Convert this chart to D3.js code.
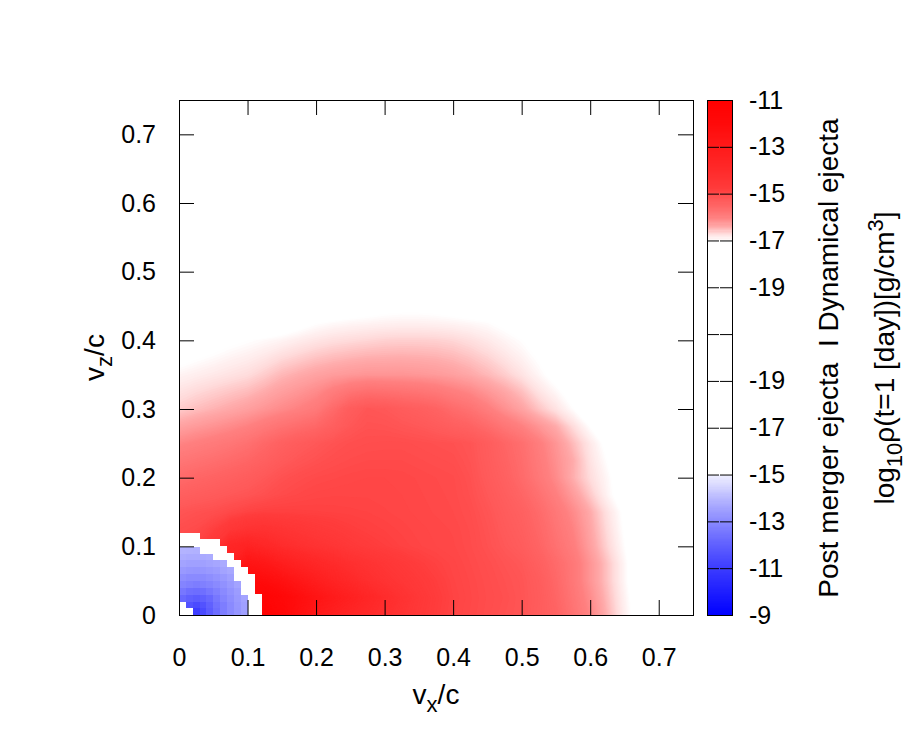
<!DOCTYPE html>
<html><head><meta charset="utf-8">
<script src="https://cdn.jsdelivr.net/npm/d3@7"></script>
<style>
body{margin:0;background:#fff;}
svg text{font-family:"Liberation Sans",Arial,Helvetica,sans-serif;fill:#000;}
</style></head><body>
<svg id="chart" width="913" height="742"></svg>
<script>
// ---------------- data ----------------
const xTicks = [0, 0.1, 0.2, 0.3, 0.4, 0.5, 0.6, 0.7];
const xTickLabels = ["0", "0.1", "0.2", "0.3", "0.4", "0.5", "0.6", "0.7"];
const yTicks = [0, 0.1, 0.2, 0.3, 0.4, 0.5, 0.6, 0.7];
const yTickLabels = ["0", "0.1", "0.2", "0.3", "0.4", "0.5", "0.6", "0.7"];
// colour-bar ticks (bottom to top): post merger part, then dynamical part
const cbTickPos = [0, 2, 4, 6, 8, 10, 12, 14, 16, 18, 20, 22];
const cbTickLabels = ["-9", "-11", "-13", "-15", "-17", "-19", "", "-19", "-17", "-15", "-13", "-11"];

// Dynamical ejecta: log10 rho on a grid, rows are vz = 0, 0.025 ... 0.45, columns vx = 0, 0.025 ... 0.75
const dynStep = 0.025;
const dynRows = [
 [-13.0,-12.0,-11.8,-11.5,-11.3,-11.3,-11.8,-12.4,-13.0,-13.4,-13.75,-14.0,-14.2,-14.45,-14.65,-14.8,-14.92,-14.98,-15.04,-15.1,-15.15,-15.3,-15.45,-15.75,-16.05,-16.45,-16.85,-17.2,-17.55,-17.9,-18.0],
 [-14.0,-13.0,-12.5,-12.0,-11.8,-11.6,-11.9,-12.3,-12.7,-13.1,-13.45,-13.8,-14.1,-14.35,-14.6,-14.78,-14.9,-14.97,-15.03,-15.08,-15.15,-15.28,-15.5,-15.8,-16.12,-16.5,-16.88,-17.25,-17.6,-18.0,-18.0],
 [-15.0,-14.5,-13.5,-12.5,-12.0,-12.2,-12.5,-12.9,-13.3,-13.65,-13.95,-14.2,-14.38,-14.55,-14.7,-14.82,-14.92,-14.98,-15.04,-15.1,-15.16,-15.3,-15.55,-15.85,-16.2,-16.55,-16.92,-17.3,-17.65,-18.0,-18.0],
 [-15.0,-14.8,-14.2,-13.5,-12.7,-12.9,-13.3,-13.6,-13.85,-14.05,-14.25,-14.4,-14.55,-14.68,-14.8,-14.88,-14.94,-15.0,-15.06,-15.13,-15.2,-15.38,-15.6,-15.85,-16.2,-16.55,-16.92,-17.3,-17.65,-18.0,-18.0],
 [-15.0,-14.9,-14.6,-13.8,-13.6,-13.85,-14.1,-14.25,-14.38,-14.5,-14.65,-14.75,-14.82,-14.88,-14.92,-14.95,-14.97,-15.02,-15.1,-15.2,-15.3,-15.48,-15.72,-15.95,-16.3,-16.65,-16.98,-17.35,-17.7,-18.0,-18.0],
 [-15.05,-15.0,-14.85,-14.6,-14.4,-14.35,-14.45,-14.55,-14.65,-14.72,-14.8,-14.85,-14.88,-14.91,-14.94,-14.96,-14.98,-15.03,-15.12,-15.24,-15.35,-15.54,-15.78,-16.02,-16.35,-16.7,-17.02,-17.38,-17.7,-18.0,-18.0],
 [-15.15,-15.1,-15.06,-14.98,-14.9,-14.85,-14.85,-14.86,-14.87,-14.88,-14.89,-14.9,-14.92,-14.94,-14.96,-14.98,-15.0,-15.05,-15.15,-15.28,-15.4,-15.6,-15.85,-16.1,-16.4,-16.75,-17.05,-17.4,-17.7,-18.0,-18.0],
 [-15.38,-15.31,-15.26,-15.2,-15.15,-15.08,-15.01,-14.97,-14.94,-14.93,-14.93,-14.93,-14.94,-14.95,-14.97,-14.99,-15.01,-15.08,-15.2,-15.34,-15.5,-15.72,-15.98,-16.26,-16.58,-16.9,-17.17,-17.47,-17.75,-18.0,-18.0],
 [-15.6,-15.52,-15.45,-15.38,-15.3,-15.2,-15.1,-15.04,-15.0,-14.98,-14.96,-14.95,-14.95,-14.96,-14.98,-15.0,-15.02,-15.1,-15.25,-15.4,-15.6,-15.85,-16.1,-16.42,-16.7,-16.93,-17.2,-17.5,-17.8,-18.0,-18.0],
 [-15.82,-15.75,-15.68,-15.6,-15.51,-15.38,-15.25,-15.16,-15.1,-15.05,-15.02,-15.0,-15.0,-15.0,-15.02,-15.04,-15.06,-15.13,-15.28,-15.45,-15.64,-15.9,-16.15,-16.4,-16.75,-17.0,-17.25,-17.55,-17.8,-18.0,-18.0],
 [-16.05,-15.97,-15.9,-15.82,-15.72,-15.55,-15.4,-15.28,-15.2,-15.12,-15.07,-15.05,-15.04,-15.04,-15.06,-15.08,-15.1,-15.15,-15.3,-15.5,-15.68,-15.95,-16.2,-16.5,-16.8,-17.08,-17.3,-17.55,-17.8,-18.0,-18.0],
 [-16.33,-16.25,-16.18,-16.1,-16.01,-15.88,-15.75,-15.64,-15.54,-15.36,-15.19,-15.11,-15.12,-15.16,-15.2,-15.27,-15.36,-15.45,-15.62,-15.82,-16.0,-16.2,-16.4,-16.7,-17.0,-17.22,-17.45,-17.68,-17.9,-18.0,-18.0],
 [-16.6,-16.52,-16.45,-16.38,-16.3,-16.2,-16.1,-16.0,-15.88,-15.6,-15.3,-15.17,-15.2,-15.28,-15.35,-15.45,-15.62,-15.75,-15.95,-16.15,-16.33,-16.55,-16.75,-16.98,-17.18,-17.4,-17.6,-17.8,-18.0,-18.0,-18.0],
 [-16.75,-16.68,-16.62,-16.56,-16.5,-16.4,-16.29,-16.2,-16.1,-15.93,-15.77,-15.68,-15.7,-15.74,-15.78,-15.85,-15.96,-16.06,-16.21,-16.36,-16.52,-16.75,-16.93,-17.12,-17.3,-17.5,-17.7,-17.85,-18.0,-18.0,-18.0],
 [-16.9,-16.85,-16.8,-16.75,-16.7,-16.6,-16.48,-16.4,-16.33,-16.27,-16.23,-16.2,-16.2,-16.2,-16.22,-16.25,-16.3,-16.38,-16.48,-16.6,-16.75,-16.92,-17.1,-17.3,-17.45,-17.6,-17.75,-17.9,-18.0,-18.0,-18.0],
 [-17.1,-17.02,-16.96,-16.9,-16.85,-16.78,-16.69,-16.62,-16.55,-16.5,-16.46,-16.43,-16.42,-16.41,-16.42,-16.44,-16.48,-16.55,-16.64,-16.76,-16.88,-17.02,-17.18,-17.35,-17.5,-17.65,-17.85,-18.0,-18.0,-18.0,-18.0],
 [-17.3,-17.2,-17.12,-17.05,-17.0,-16.95,-16.9,-16.83,-16.77,-16.72,-16.69,-16.66,-16.63,-16.62,-16.62,-16.63,-16.66,-16.72,-16.8,-16.9,-16.99,-17.1,-17.25,-17.4,-17.6,-17.8,-18.0,-18.0,-18.0,-18.0,-18.0],
 [-18.0,-17.8,-17.6,-17.5,-17.4,-17.3,-17.2,-17.1,-17.0,-16.95,-16.92,-16.9,-16.88,-16.87,-16.87,-16.88,-16.9,-16.93,-16.97,-17.05,-17.2,-17.4,-17.6,-17.8,-18.0,-18.0,-18.0,-18.0,-18.0,-18.0,-18.0],
 [-18.0,-18.0,-18.0,-18.0,-18.0,-17.8,-17.6,-17.5,-17.4,-17.3,-17.2,-17.15,-17.1,-17.08,-17.08,-17.1,-17.15,-17.2,-17.3,-17.4,-17.6,-17.8,-18.0,-18.0,-18.0,-18.0,-18.0,-18.0,-18.0,-18.0,-18.0]
];

// Post merger ejecta: log10 rho in cells of 0.01 c, rows vz = 0..0.11, columns vx = 0..0.11; null = no post-merger ejecta
const postStep = 0.01;
const W = -16;
const postRows = [
 [W, W, -11.0, -11.4, -11.9, -12.3, -12.7, -13.0, -13.25, -13.5, W, W],
 [W, -11.6, -11.4, -11.6, -12.0, -12.4, -12.7, -13.0, -13.28, -13.5, W, W],
 [-12.2, -12.0, -11.9, -12.0, -12.2, -12.55, -12.85, -13.1, -13.33, -13.55, W, W],
 [-12.55, -12.35, -12.3, -12.35, -12.55, -12.75, -13.0, -13.2, -13.42, W, W, null],
 [-12.85, -12.75, -12.7, -12.75, -12.85, -13.0, -13.17, -13.35, -13.55, W, W, null],
 [-13.1, -13.0, -13.0, -13.0, -13.1, -13.2, -13.35, -13.5, W, W, W, null],
 [-13.33, -13.27, -13.25, -13.27, -13.33, -13.42, -13.55, -13.65, W, W, null, null],
 [-13.55, -13.5, -13.5, -13.5, -13.55, -13.62, -13.7, W, W, null, null, null],
 [-13.74, -13.7, -13.7, -13.7, -13.74, W, W, W, null, null, null, null],
 [-13.88, -13.86, -13.85, W, W, W, W, null, null, null, null, null],
 [W, W, W, W, W, W, null, null, null, null, null, null],
 [W, W, W, null, null, null, null, null, null, null, null, null]
];

// ---------------- palettes (style) ----------------
const redLevels = [-17, -16.7, -16.4, -16.0, -15.5, -15.2, -14.8, -14.0, -13.0, -12.0, -11.0];
const redShade  = [255, 221, 170, 128, 101, 88, 60, 42, 26, 10, 0];
const blueLevels = [-15, -14.5, -14, -13.5, -13, -12, -11, -10, -9];
const blueShade  = [240, 215, 185, 160, 138, 96, 60, 30, 0];
const redS = d3.scaleLinear().domain(redLevels).range(redShade).clamp(true);
const blueS = d3.scaleLinear().domain(blueLevels).range(blueShade).clamp(true);
const redColor = v => v < -17 ? "#ffffff" : d3.rgb(255, Math.round(redS(v)), Math.round(redS(v))).formatHex();
const blueColor = v => v < -15 ? "#ffffff" : d3.rgb(Math.round(blueS(v)), Math.round(blueS(v)), 255).formatHex();

// ---------------- layout ----------------
const svg = d3.select("#chart");
const x = d3.scaleLinear().domain([0, 0.75]).range([179, 693]);
const y = d3.scaleLinear().domain([0, 0.75]).range([615, 100]);
const cb = d3.scaleLinear().domain([0, 22]).range([615, 100]);
const cbX0 = 707, cbX1 = 732;
const FONT = 25, LFONT = 28;

svg.append("defs").append("clipPath").attr("id", "plotclip")
  .append("rect").attr("x", x(0)).attr("y", y(0.75)).attr("width", x(0.75) - x(0)).attr("height", y(0) - y(0.75));

const heat = svg.append("g").attr("clip-path", "url(#plotclip)");

// dynamical ejecta as stacked filled iso-bands
const nx = dynRows[0].length, nz = dynRows.length;
const bandStep = 0.025;
const thresholds = d3.range(0, 240).map(k => -17 + k * bandStep);
const contours = d3.contours().size([nx, nz]).thresholds(thresholds)(dynRows.flat());
const proj = d3.geoTransform({
  point(px, py) { this.stream.point(x((px - 0.5) * dynStep), y((py - 0.5) * dynStep)); }
});
const path = d3.geoPath(proj);
heat.append("g").selectAll("path").data(contours).join("path")
  .attr("d", path)
  .attr("fill", d => redColor(d.value + bandStep / 2));

// post merger ejecta as cells
const cells = [];
postRows.forEach((row, j) => row.forEach((v, i) => { if (v !== null) cells.push({ i, j, v }); }));
heat.append("g").attr("shape-rendering", "crispEdges").selectAll("rect").data(cells).join("rect")
  .attr("x", d => x(d.i * postStep))
  .attr("y", d => y((d.j + 1) * postStep))
  .attr("width", x(postStep) - x(0) + 0.3)
  .attr("height", y(0) - y(postStep) + 0.3)
  .attr("fill", d => blueColor(d.v));

// ---------------- axes ----------------
function styleAxis(g) {
  g.select(".domain").remove();
  g.selectAll(".tick line").attr("stroke", "#000").attr("stroke-width", 1);
  g.selectAll("text").attr("font-size", FONT).attr("fill", "#000");
  g.attr("font-family", null).attr("font-size", null);
}
svg.append("g").attr("transform", `translate(0,${y(0)})`)
  .call(d3.axisBottom(x).tickValues(xTicks).tickFormat((d, i) => xTickLabels[i]).tickSize(-15).tickPadding(33))
  .call(styleAxis);
svg.append("g").attr("transform", `translate(0,${y(0.75)})`)
  .call(d3.axisTop(x).tickValues(xTicks).tickFormat("").tickSize(-15))
  .call(styleAxis);
svg.append("g").attr("transform", `translate(${x(0)},0)`)
  .call(d3.axisLeft(y).tickValues(yTicks).tickFormat((d, i) => yTickLabels[i]).tickSize(-15).tickPadding(23))
  .call(styleAxis);
svg.append("g").attr("transform", `translate(${x(0.75)},0)`)
  .call(d3.axisRight(y).tickValues(yTicks).tickFormat("").tickSize(-15))
  .call(styleAxis);

svg.append("rect").attr("x", x(0) + 0.5).attr("y", y(0.75) + 0.5)
  .attr("width", x(0.75) - x(0)).attr("height", y(0) - y(0.75))
  .attr("fill", "none").attr("stroke", "#000").attr("stroke-width", 1);

// ---------------- colour bar ----------------
const cbG = svg.append("g").attr("shape-rendering", "crispEdges");
const cbStrips = [];
// post merger part: u = -9 - v, v from -21 to -9
d3.range(0, 240).forEach(k => { const v = -21 + k * 0.05; cbStrips.push({ u0: -9 - v - 0.05, u1: -9 - v, c: blueColor(v + 0.025) }); });
// dynamical part: u = 12 + (v + 21), v from -21 to -11
d3.range(0, 200).forEach(k => { const v = -21 + k * 0.05; cbStrips.push({ u0: 12 + (v + 21), u1: 12 + (v + 21) + 0.05, c: redColor(v + 0.025) }); });
cbG.selectAll("rect").data(cbStrips).join("rect")
  .attr("x", cbX0).attr("width", cbX1 - cbX0)
  .attr("y", d => cb(d.u1)).attr("height", d => cb(d.u0) - cb(d.u1) + 0.5)
  .attr("fill", d => d.c);

svg.append("g").attr("transform", `translate(${cbX1},0)`)
  .call(d3.axisRight(cb).tickValues(cbTickPos).tickFormat((d, i) => cbTickLabels[i]).tickSize(-12).tickPadding(17))
  .call(styleAxis);
svg.append("g").attr("transform", `translate(${cbX0},0)`)
  .call(d3.axisLeft(cb).tickValues(cbTickPos).tickFormat("").tickSize(-12))
  .call(styleAxis);
svg.append("rect").attr("x", cbX0 + 0.5).attr("y", cb(22) + 0.5)
  .attr("width", cbX1 - cbX0).attr("height", cb(0) - cb(22))
  .attr("fill", "none").attr("stroke", "#000").attr("stroke-width", 1);

// ---------------- labels ----------------
const xl = svg.append("text").attr("x", (x(0) + x(0.75)) / 2).attr("y", 704)
  .attr("text-anchor", "middle").attr("font-size", LFONT);
xl.append("tspan").text("v");
xl.append("tspan").attr("dy", 8).attr("font-size", 22).text("x");
xl.append("tspan").attr("dy", -8).text("/c");

const yl = svg.append("text").attr("transform", `translate(104,${(y(0) + y(0.75)) / 2}) rotate(-90)`)
  .attr("text-anchor", "middle").attr("font-size", LFONT);
yl.append("tspan").text("v");
yl.append("tspan").attr("dy", 8).attr("font-size", 22).text("z");
yl.append("tspan").attr("dy", -8).text("/c");

svg.append("text").attr("transform", `translate(838,358) rotate(-90)`)
  .attr("text-anchor", "middle").attr("font-size", LFONT).attr("xml:space", "preserve")
  .style("white-space", "pre")
  .text("Post merger ejecta  I Dynamical ejecta");

const cl = svg.append("text").attr("transform", `translate(894,358) rotate(-90)`)
  .attr("text-anchor", "middle").attr("font-size", LFONT);
cl.append("tspan").text("log");
cl.append("tspan").attr("dy", 8).attr("font-size", 22).text("10");
cl.append("tspan").attr("dy", -8).text("ρ(t=1 [day])[g/cm");
cl.append("tspan").attr("dy", -11).attr("font-size", 22).text("3");
cl.append("tspan").attr("dy", 11).text("]");
</script>
</body></html>
